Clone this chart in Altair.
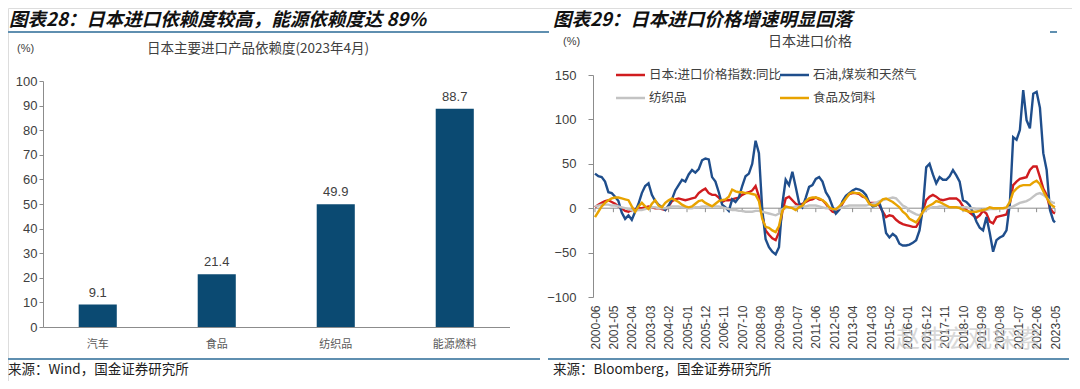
import json
import altair as alt
import pandas as pd

# ---------------- left panel data ----------------
categories = ["汽车", "食品", "纺织品", "能源燃料"]
dependency = [9.1, 21.4, 49.9, 88.7]

# ---------------- right panel data ----------------
series_names = ["日本:进口价格指数:同比", "石油,煤炭和天然气", "纺织品", "食品及饲料"]
series_colors = ["#d01c1f", "#1f4e8c", "#c3c3c3", "#e8a300"]

# sampled months: every second month from 2000-06, plus 2023-05
sample_months = [f"{2000 + (5 + m) // 12}-{(5 + m) % 12 + 1:02d}" for m in list(range(0, 275, 2)) + [275]]

import_yoy = [
    1, 4, 6, 8, 9, 7, 5, 2, 0, -3,
    -4, -2, -1, 0, 0, 1, 2, 1, 0, 0,
    -1, -2, 2, 8, 10, 11, 10, 9, 10, 11,
    12, 17, 20, 22, 17, 15, 15, 12, 7, 9,
    9, 10, 11, 12, 15, 17, 18, 20, 25, 13,
    -8, -25, -30, -34, -36, -27, -4, 11, 13, 9,
    5, 3, 5, 7, 9, 10, 12, 10, 9, 5,
    0, -4, -5, -1, 5, 12, 16, 17, 17, 16,
    13, 12, 6, 6, 6, 3, -4, -10, -8, -9,
    -13, -16, -18, -19, -20, -21, -21, -15, -3, 9,
    13, 15, 13, 10, 9, 10, 11, 11, 11, 8,
    2, -2, -5, -8, -11, -8, -3, -6, -15, -17,
    -10, -9, -8, -7, 5, 26, 30, 33, 34, 35,
    43, 47, 47, 35, 22, 15, 0, -5,
    -6,
]
oil_coal_gas = [
    39, 36, 35, 30, 18, 17, 13, 8, -5, -12,
    -8, -13, -4, 5, 17, 25, 28, 15, 8, 4,
    1, -2, 3, 10, 20, 26, 32, 30, 38, 43,
    40, 44, 54, 56, 55, 35, 30, 18, 4, 1,
    -3, 10, 7, 12, 25, 36, 39, 50, 76, 62,
    -2, -35, -44, -49, -52, -44, 5, 32, 26, 41,
    24, 6, 1, 12, 24, 26, 33, 35, 30, 18,
    12, 2, -6, -2, 8, 14, 17, 20, 22, 21,
    19, 15, 6, 2, 3, 6, -5, -28, -33, -29,
    -32, -40, -42, -42, -41, -39, -36, -25, 0, 46,
    50, 38, 28, 35, 32, 32, 36, 43, 37, 30,
    9, 7, 3, -5, -15, -22, -25, -10, -28, -49,
    -36, -33, -31, -25, 5, 80, 77, 88, 133, 99,
    90, 129, 131, 113, 62, 43, -2, -14,
    -16,
]
textiles = [
    2, 3, 4, 4, 4, 3, 3, 2, 1, 0,
    -1, -2, -3, -2, -2, -1, 0, 1, 1, 0,
    0, 0, 1, 2, 2, 2, 1, 1, 0, 0,
    1, 1, 2, 2, 2, 2, 2, 2, 1, 0,
    -1, -2, -2, -3, -3, -4, -4, -4, -3, -3,
    -4, -5, -6, -7, -8, -6, -1, 0, 1, 1,
    2, 2, 2, 2, 3, 3, 3, 2, 1, 0,
    0, -1, -1, 0, 1, 2, 3, 3, 3, 3,
    3, 3, 4, 5, 6, 8, 9, 10, 11, 12,
    11, 7, 3, 1, -3, -5, -7, -8, -5, -2,
    0, 1, 1, 2, 2, 2, 1, 1, 1, 1,
    1, 1, 0, 0, -1, -2, -2, -2, -1, -1,
    -1, 0, 0, 0, 1, 2, 4, 6, 7, 8,
    10, 13, 16, 17, 15, 12, 8, 6,
    6,
]
food_feed = [
    -10, -4, 2, 6, 9, 11, 12, 12, 11, 10,
    9, 2, -4, 2, 6, 2, -1, 5, 9, 3,
    1, 6, 9, 11, 9, 7, 4, 2, 1, 2,
    5, 8, 9, 6, 4, 2, 5, 8, 9, 10,
    13, 21, 19, 18, 18, 17, 17, 16, 15, 8,
    -12, -21, -22, -25, -27, -20, -3, 2, 1, 0,
    -2, 1, 3, 8, 11, 12, 12, 11, 9, 6,
    1, -1, -1, 2, 6, 11, 16, 18, 17, 17,
    14, 11, 5, 3, 3, 6, 10, 11, 9, 7,
    4, 1, -4, -7, -12, -14, -16, -11, -4, 1,
    3, 5, 8, 7, 5, 3, 1, 1, 1, 0,
    -2, -3, -4, -4, -4, -3, -2, -1, 1, 0,
    0, 0, 0, 1, 7, 18, 22, 25, 26, 26,
    26, 29, 31, 27, 19, 12, 5, 2,
    1,
]

x_tick_labels = ["2000-06", "2001-05", "2002-04", "2003-03", "2004-02", "2005-01",
                 "2005-12", "2006-11", "2007-10", "2008-09", "2009-08", "2010-07",
                 "2011-06", "2012-05", "2013-04", "2014-03", "2015-02", "2016-01",
                 "2016-12", "2017-11", "2018-10", "2019-09", "2020-08", "2021-07",
                 "2022-06", "2023-05"]
y_ticks_left = [0, 10, 20, 30, 40, 50, 60, 70, 80, 90, 100]
y_ticks_right = [-100, -50, 0, 50, 100, 150]

# ---------------- build tables ----------------
def month_index(s):
    y, m = s.split("-")
    return (int(y) - 2000) * 12 + int(m) - 6

rows = []
for name, vals in zip(series_names, [import_yoy, oil_coal_gas, textiles, food_feed]):
    for mo, v in zip(sample_months, vals):
        rows.append({"series": name, "month": mo, "idx": month_index(mo), "value": v})
line_df = pd.DataFrame(rows)
bar_df = pd.DataFrame({"cat": categories, "val": dependency})
tick_idx = [month_index(s) for s in x_tick_labels]
label_expr = json.dumps(x_tick_labels, ensure_ascii=False) + "[round(datum.value / 11)]"

W, H = 1064, 373
CJK = "Noto Sans CJK SC"
LAT = "Liberation Sans"
AXIS_GREY = "#8c8c8c"
RULE_BLUE = "#5f8fb0"

# ---------------- left panel ----------------
bx = alt.X("cat:N", sort=categories, title=None,
           scale=alt.Scale(domain=categories, range=[35, 501.5], paddingInner=0.68, paddingOuter=0.30),
           axis=alt.Axis(orient="bottom", offset=-54, domainColor=AXIS_GREY, ticks=False, labelAngle=0,
                         labelFont=CJK, labelFontSize=11, labelColor="#595959", labelPadding=11, grid=False))
by = alt.Y("val:Q", title=None,
           scale=alt.Scale(domain=[0, 100], range=[319, 73], nice=False),
           axis=alt.Axis(orient="left", offset=-35, values=y_ticks_left, tickCount=11, tickSize=4,
                         tickColor=AXIS_GREY, domainColor=AXIS_GREY, labelPadding=2, labelFont=LAT,
                         labelFontSize=13, labelColor="#404040", labelOverlap=False, grid=False))
bars = alt.Chart(bar_df).mark_bar(color="#0b4a72").encode(x=bx, y=by)
bar_text = alt.Chart(bar_df).mark_text(dy=-12, font=LAT, fontSize=13, color="#404040").encode(
    x=bx, y=by, text=alt.Text("val:Q", format=".1f"))
left = alt.layer(bars, bar_text)

# ---------------- right panel ----------------
lx = alt.X("idx:Q", title=None,
           scale=alt.Scale(domain=[0, 275], range=[587, 1047], nice=False, zero=False),
           axis=alt.Axis(orient="bottom", offset=-84, values=tick_idx, labelExpr=label_expr, labelAngle=-90,
                         domain=False, ticks=False, labelPadding=8, labelFlush=False, labelOverlap=False,
                         labelFont=LAT, labelFontSize=12, labelColor="#404040", grid=False))
ly = alt.Y("value:Q", title=None,
           scale=alt.Scale(domain=[-100, 150], range=[289, 67], nice=False, zero=False),
           axis=alt.Axis(orient="left", offset=-585, values=y_ticks_right, tickSize=5, tickColor=AXIS_GREY,
                         domainColor=AXIS_GREY, labelPadding=12, labelFont=LAT, labelFontSize=13,
                         labelColor="#404040", labelOverlap=False, grid=False))
color = alt.Color("series:N", sort=series_names,
                  scale=alt.Scale(domain=series_names, range=series_colors), legend=None)
zero_line = alt.Chart(pd.DataFrame({"a": [0], "b": [275], "v": [0]})).mark_rule(
    color=AXIS_GREY, strokeWidth=1).encode(x="a:Q", x2="b:Q", y="v:Q")
zero_ticks = alt.Chart(pd.DataFrame({"idx": tick_idx})).mark_rule(color=AXIS_GREY, strokeWidth=1).encode(
    x="idx:Q", y=alt.datum(0), y2=alt.datum(-4.5))
lines = alt.Chart(line_df).mark_line(strokeWidth=2.4).encode(x=lx, y=ly, color=color)
right = alt.layer(zero_line, zero_ticks, lines)

# ---------------- annotations ----------------
def text_layer(txt, x, y, size, align="left", font=CJK, weight="normal", style="normal",
               color="#333333", opacity=1.0):
    return alt.Chart(pd.DataFrame({"t": [txt]})).mark_text(
        align=align, baseline="middle", font=font, fontSize=size, fontWeight=weight,
        fontStyle=style, color=color, opacity=opacity).encode(
        x=alt.value(x), y=alt.value(y), text="t:N")

def hrule(x1, x2, y, color=RULE_BLUE, w=2):
    return alt.Chart(pd.DataFrame({"k": [0]})).mark_rule(color=color, strokeWidth=w).encode(
        x=alt.value(x1), x2=alt.value(x2), y=alt.value(y))

# manual legend (two rows, two columns)
legend_slots = [(608, 67), (772, 67), (608, 90), (772, 90)]
legend_layers = []
for name, col, (lx0, ly0) in zip(series_names, series_colors, legend_slots):
    legend_layers.append(hrule(lx0, lx0 + 29, ly0, color=col, w=2.5))
    legend_layers.append(text_layer(name, lx0 + 33, ly0, 12.5, color="#404040"))

annotations = [
    hrule(0, 541, 24),
    hrule(1042, 1049, 24),
    hrule(0, 532, 351),
    hrule(540, 1061, 351),
    text_layer("图表28：日本进口依赖度较高，能源依赖度达 89%", 1, 12, 18.5, weight="bold", style="italic",
               color="#111111"),
    text_layer("图表29：日本进口价格增速明显回落", 545, 12, 18.5, weight="bold", style="italic",
               color="#111111"),
    text_layer("(%)", 9, 41, 11, font=LAT, color="#404040"),
    text_layer("日本主要进口产品依赖度(2023年4月)", 250, 41, 13.5, align="center", color="#404040"),
    text_layer("(%)", 555, 34, 11, font=LAT, color="#404040"),
    text_layer("日本进口价格", 802, 34, 14, align="center", color="#404040"),
    text_layer("来源：Wind，国金证券研究所", 0, 362, 13.5, color="#222222"),
    text_layer("来源：Bloomberg，国金证券研究所", 545, 362, 13.5, color="#222222"),
    text_layer("赵伟宏观探索", 960, 332, 24, align="center", color="#c8c8c8", opacity=0.7),
] + legend_layers

chart = alt.layer(left, right, *annotations).resolve_scale(
    x="independent", y="independent").properties(
    width=W, height=H, autosize=alt.AutoSizeParams(type="none"), padding=0
).configure_view(stroke=None).configure(background="white")

chart.save("out.html", embed_options={"renderer": "svg", "actions": False})
